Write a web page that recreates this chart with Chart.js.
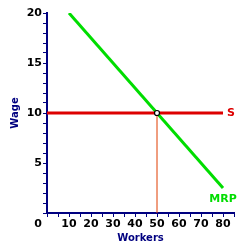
<!DOCTYPE html>
<html>
<head>
<meta charset="utf-8">
<script src="https://cdn.jsdelivr.net/npm/chart.js@4/dist/chart.umd.min.js"></script>
<style>
  html, body { margin: 0; padding: 0; background: #fff; }
  #wrap { width: 250px; height: 250px; }
</style>
</head>
<body>
<div id="wrap"><canvas id="labourChart" width="250" height="250"></canvas></div>
<script>
// data
const mrpWorkers = [10, 80];
const mrpWage = [20, 2.5];
const supplyWorkers = [0, 80];
const supplyWage = [10, 10];
const eqWorkers = [50, 50];
const eqWage = [0, 10];
const xTickLabels = [10, 20, 30, 40, 50, 60, 70, 80];
const yTickLabels = [5, 10, 15, 20];

const navy = '#000080';
const toPoints = (xs, ys) => xs.map((x, i) => ({ x: x, y: ys[i] }));

// curve labels + the lone "0" at the corner
const textPlugin = {
    id: 'textPlugin',
    afterDatasetsDraw(chart) {
        const { ctx, scales } = chart;
        const x = scales.x, y = scales.y;
        ctx.save();
        ctx.font = 'bold 11px "DejaVu Sans"';
        ctx.textBaseline = 'middle';
        ctx.textAlign = 'left';
        ctx.fillStyle = '#dd0000';
        ctx.fillText('S', x.getPixelForValue(supplyWorkers[1]) + 4, y.getPixelForValue(supplyWage[1]));
        ctx.fillStyle = '#00dd00';
        ctx.textAlign = 'center';
        ctx.fillText('MRP', x.getPixelForValue(mrpWorkers[1]), y.getPixelForValue(mrpWage[1]) + 11);
        ctx.fillStyle = '#000';
        ctx.fillText('0', x.left - 9, y.bottom + 11);
        ctx.restore();
    }
};

const ctx = document.getElementById('labourChart').getContext('2d');
new Chart(ctx, {
    type: 'scatter',
    data: {
        datasets: [{
            // equilibrium drop line + open circle, drawn on top
            label: 'eq',
            data: toPoints(eqWorkers, eqWage),
            showLine: true,
            borderColor: '#e03c00',
            borderWidth: 1,
            pointRadius: [0, 2.5],
            pointBackgroundColor: '#fff',
            pointBorderColor: '#000',
            pointBorderWidth: 1.2
        }, {
            label: 'S',
            data: toPoints(supplyWorkers, supplyWage),
            showLine: true,
            borderColor: '#dd0000',
            borderWidth: 3,
            pointRadius: 0
        }, {
            label: 'MRP',
            data: toPoints(mrpWorkers, mrpWage),
            showLine: true,
            borderColor: '#00dd00',
            borderWidth: 3,
            pointRadius: 0
        }]
    },
    options: {
        responsive: false,
        animation: false,
        layout: { padding: { top: 13, right: 16, left: 0, bottom: 0 } },
        plugins: { legend: { display: false }, tooltip: { enabled: false } },
        scales: {
            x: {
                type: 'linear',
                min: 0, max: 85,
                afterFit: s => { s.height = 37; },
                border: { color: navy, width: 2 },
                grid: { drawOnChartArea: false, tickLength: 4, color: navy },
                ticks: {
                    stepSize: 5, padding: 1, maxRotation: 0, autoSkip: false,
                    color: '#000', font: { family: 'DejaVu Sans', size: 11, weight: 'bold' },
                    callback: v => xTickLabels.includes(v) ? v : ''
                },
                title: {
                    display: true, text: 'Workers', color: navy,
                    font: { family: 'DejaVu Sans', size: 10, weight: 'bold' },
                    padding: { top: 0, bottom: 6 }
                }
            },
            y: {
                type: 'linear',
                min: 0, max: 20,
                afterFit: s => { s.width = 47; },
                border: { color: navy, width: 2 },
                grid: { drawOnChartArea: false, tickLength: 4, color: navy },
                ticks: {
                    stepSize: 1, padding: 1, autoSkip: false,
                    color: '#000', font: { family: 'DejaVu Sans', size: 11, weight: 'bold' },
                    callback: v => yTickLabels.includes(v) ? v : ''
                },
                title: {
                    display: true, text: 'Wage', color: navy,
                    font: { family: 'DejaVu Sans', size: 10, weight: 'bold' },
                    padding: { top: 9, bottom: 0 }
                }
            }
        }
    },
    plugins: [textPlugin]
});
</script>
</body>
</html>
